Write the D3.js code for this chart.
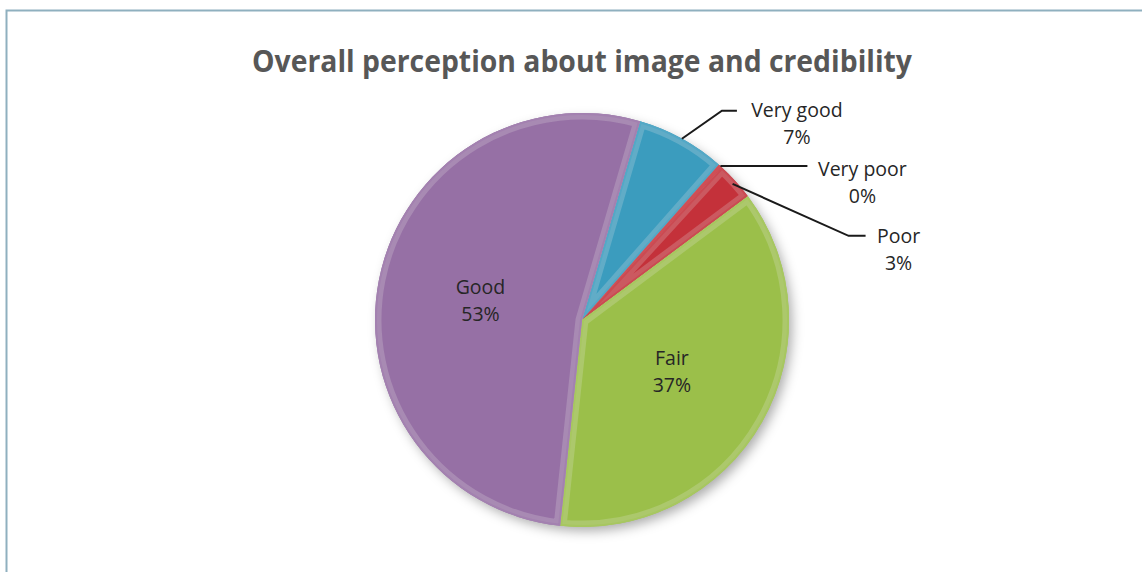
<!DOCTYPE html>
<html>
<head>
<meta charset="utf-8">
<script src="https://cdn.jsdelivr.net/npm/d3@7"></script>
<style>
  html, body { margin: 0; padding: 0; background: #ffffff; }
  svg { display: block; }
</style>
</head>
<body>
<script>
// Survey answers, in drawing order (clockwise)
const categories = ["Very good", "Very poor", "Poor", "Fair", "Good"];
const shares = [7, 0.3, 3, 37, 53];
const sliceColors = ["#3b9cbe", "#c9373f", "#c4313a", "#9bbf4a", "#9670a5"];
const chartTitle = "Overall perception about image and credibility";

const W = 1142, H = 572;
const cx = 582, cy = 320, R = 207;

const svg = d3.select("body").append("svg")
  .attr("width", W).attr("height", H)
  .style("font-family", "'Open Sans', 'Noto Sans', sans-serif");

// frame
svg.append("path")
  .attr("d", `M6.5,${H} V10.5 H${W}`)
  .attr("fill", "none").attr("stroke", "#8fb0bf").attr("stroke-width", 2);

// title
svg.append("text")
  .attr("x", cx).attr("y", 72)
  .attr("text-anchor", "middle")
  .attr("font-size", 31).attr("font-weight", 700)
  .attr("fill", "#575757")
  .attr("textLength", 660).attr("lengthAdjust", "spacingAndGlyphs")
  .text(chartTitle);

const defs = svg.append("defs");
const shadow = defs.append("filter").attr("id", "pieShadow")
  .attr("x", "-20%").attr("y", "-20%").attr("width", "140%").attr("height", "140%");
shadow.append("feDropShadow")
  .attr("dx", 4).attr("dy", 5).attr("stdDeviation", 6)
  .attr("flood-color", "#000").attr("flood-opacity", 0.33);

const startDeg = 16.3;
const pie = d3.pie().sort(null).value(d => d)
  .startAngle(startDeg * Math.PI / 180)
  .endAngle(startDeg * Math.PI / 180 + 2 * Math.PI);
const arcs = pie(shares);
const arc = d3.arc().innerRadius(0).outerRadius(R);

const g = svg.append("g").attr("transform", `translate(${cx},${cy})`);

// shadow under the whole pie
g.append("circle").attr("r", R - 1).attr("fill", "#ffffff")
  .attr("filter", "url(#pieShadow)");

arcs.forEach((a, i) => {
  const id = "sliceClip" + i;
  defs.append("clipPath").attr("id", id).append("path").attr("d", arc(a));
  const sg = g.append("g").attr("clip-path", `url(#${id})`);
  sg.append("path").attr("d", arc(a)).attr("fill", sliceColors[i]);
  // bevelled rim: a soft, lighter band just inside each slice edge
  sg.append("path").attr("d", arc(a))
    .attr("fill", "none")
    .attr("stroke", d3.interpolateRgb(sliceColors[i], "#e6e6e6")(0.22))
    .attr("stroke-width", 13)
    .attr("stroke-linejoin", "round");
  sg.append("path").attr("d", arc(a))
    .attr("fill", "none")
    .attr("stroke", d3.interpolateRgb(sliceColors[i], "#ffffff")(0.12))
    .attr("stroke-width", 4)
    .attr("stroke-linejoin", "round");
});

const fmt = v => Math.round(v) + "%";
const labelColor = "#262626";
const fontSize = 19.5;

// labels inside the two large slices
[3, 4].forEach(i => {
  const [x, y] = arc.centroid(arcs[i]);
  const t = g.append("text").attr("text-anchor", "middle")
    .attr("font-size", fontSize).attr("fill", labelColor);
  t.append("tspan").attr("x", x).attr("y", y - 6).text(categories[i]);
  t.append("tspan").attr("x", x).attr("y", y + 21).text(fmt(shares[i]));
});

// leader-line layout for the small slices: start radius, elbow offset, run, text offset
const leaderLayout = [
  { i: 0, r: R, elbow: [40, -28], run: 15, tx: 60, ty: 6 },
  { i: 1, r: R, elbow: [0, 0], run: 87, tx: 55, ty: 10 },
  { i: 2, r: R - 4, elbow: [116, 52], run: 17, tx: 33, ty: 7 }
];
leaderLayout.forEach(L => {
  const a = arcs[L.i];
  const mid = (a.startAngle + a.endAngle) / 2;
  const sx = L.r * Math.sin(mid), sy = -L.r * Math.cos(mid);
  const ex = sx + L.elbow[0], ey = sy + L.elbow[1];
  const fx = ex + L.run;
  g.append("path")
    .attr("d", `M${sx},${sy} L${ex},${ey} L${fx},${ey}`)
    .attr("fill", "none").attr("stroke", "#1a1a1a").attr("stroke-width", 2);
  const t = g.append("text").attr("text-anchor", "middle")
    .attr("font-size", fontSize).attr("fill", labelColor);
  t.append("tspan").attr("x", fx + L.tx).attr("y", ey + L.ty).text(categories[L.i]);
  t.append("tspan").attr("x", fx + L.tx).attr("y", ey + L.ty + 27).text(fmt(shares[L.i]));
});
</script>
</body>
</html>
